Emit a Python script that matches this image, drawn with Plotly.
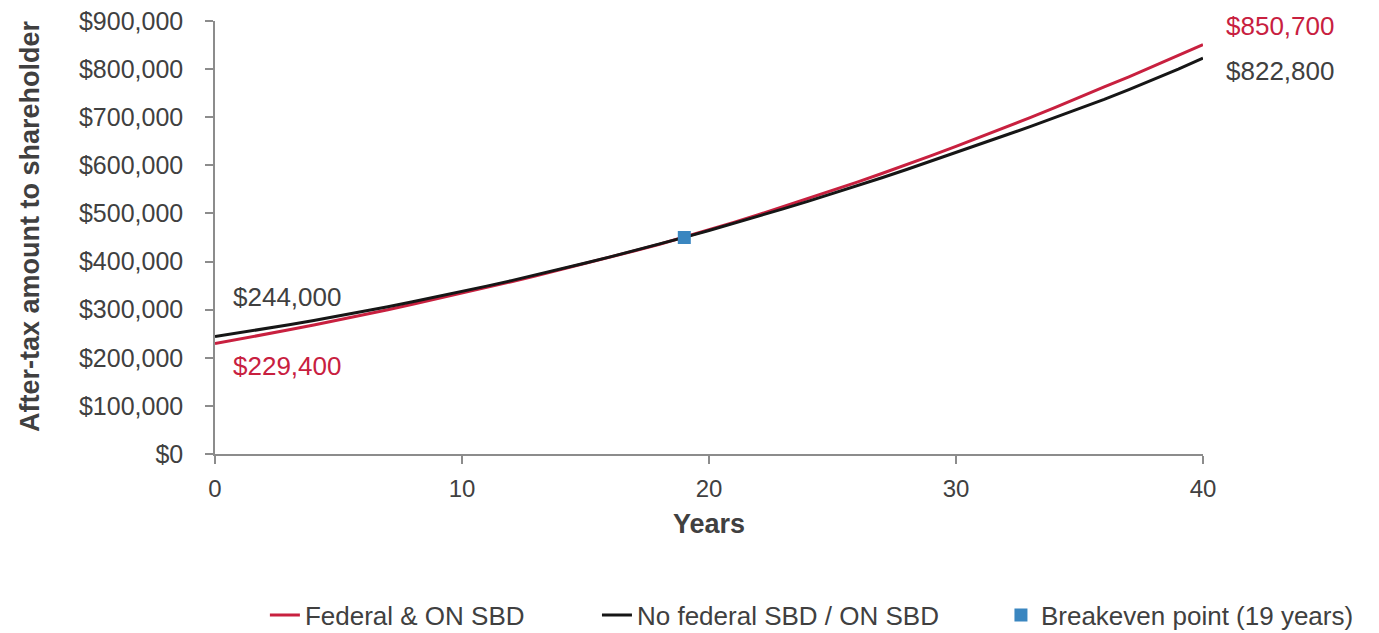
import plotly.graph_objects as go

years = list(range(0, 41))
federal_on_sbd = [229400, 238700, 248300, 258100, 268200, 278500, 289100, 300000, 311100, 322500,
                  334100, 346000, 358200, 370600, 383300, 395900, 409000, 422400, 436000, 450600,
                  465600, 481200, 497300, 514000, 530800, 547800, 565200, 583000, 601000, 620000,
                  639500, 659000, 678500, 699000, 720000, 742000, 763000, 784000, 806000, 828000,
                  850700]
no_federal_sbd = [244000, 251900, 260100, 268700, 277600, 286800, 296300, 306200, 316400, 326900,
                  337800, 348900, 360400, 372300, 384400, 396900, 409800, 422900, 436400, 450200,
                  464500, 479100, 494100, 509500, 525100, 541200, 557500, 574200, 591300, 608700,
                  626500, 644600, 662500, 680500, 699000, 717500, 737000, 757500, 778500, 800000,
                  822800]
breakeven_year = [19]
breakeven_value = [450000]
series_names = ["Federal & ON SBD", "No federal SBD / ON SBD", "Breakeven point (19 years)"]
y_ticks = [0, 100000, 200000, 300000, 400000, 500000, 600000, 700000, 800000, 900000]
x_ticks = [0, 10, 20, 30, 40]
x_title = "Years"
y_title = "After-tax amount to shareholder"

RED = "#C8203F"
BLACK = "#161616"
BLUE = "#3A86C0"
TEXT = "#404040"
AXIS = "#8C8C8C"
FONT = "Liberation Sans"

fig = go.Figure()
fig.add_trace(go.Scatter(x=years, y=federal_on_sbd, mode="lines", name=series_names[0],
                         line=dict(color=RED, width=3), legend="legend"))
fig.add_trace(go.Scatter(x=years, y=no_federal_sbd, mode="lines", name=series_names[1],
                         line=dict(color=BLACK, width=3), legend="legend2"))
fig.add_trace(go.Scatter(x=breakeven_year, y=breakeven_value, mode="markers", name=series_names[2],
                         marker=dict(color=BLUE, size=13, symbol="square"), legend="legend3"))

def money(v):
    return f"${v:,}"

ann_font = dict(family=FONT, size=26)
annotations = [
    dict(x=years[0], y=326000, xref="x", yref="y", text=money(no_federal_sbd[0]), showarrow=False,
         xanchor="left", yanchor="middle", xshift=16, font=dict(color=TEXT, **ann_font)),
    dict(x=years[0], y=183000, xref="x", yref="y", text=money(federal_on_sbd[0]), showarrow=False,
         xanchor="left", yanchor="middle", xshift=16, font=dict(color=RED, **ann_font)),
    dict(x=years[-1], y=889000, xref="x", yref="y", text=money(federal_on_sbd[-1]), showarrow=False,
         xanchor="left", yanchor="middle", xshift=21, font=dict(color=RED, **ann_font)),
    dict(x=years[-1], y=797000, xref="x", yref="y", text=money(no_federal_sbd[-1]), showarrow=False,
         xanchor="left", yanchor="middle", xshift=21, font=dict(color=TEXT, **ann_font)),
    dict(x=-0.1872, y=0.5266, xref="paper", yref="paper", text=f"<b>{y_title}</b>",
         showarrow=False, textangle=-90, xanchor="center", yanchor="middle",
         font=dict(family=FONT, size=27, color=TEXT)),
]

leg_common = dict(orientation="h", y=-0.372, yanchor="middle", xanchor="left",
                  font=dict(family=FONT, size=26, color=TEXT), bgcolor="rgba(0,0,0,0)",
                  borderwidth=0)

fig.update_layout(
    width=1371, height=625,
    margin=dict(l=207, r=176, t=13, b=179, autoexpand=False),
    paper_bgcolor="white", plot_bgcolor="white",
    font=dict(family=FONT, size=24, color=TEXT),
    showlegend=True,
    legend=dict(x=0.0505, **leg_common),
    legend2=dict(x=0.3866, **leg_common),
    legend3=dict(x=0.7955, **leg_common),
    annotations=annotations,
    xaxis=dict(range=[0, 40], tickvals=x_ticks, ticktext=[str(t) for t in x_ticks],
               showgrid=False, zeroline=False, showline=True, linecolor=AXIS, linewidth=1.5,
               ticks="outside", ticklen=8, tickcolor=AXIS, tickwidth=1.5,
               ticklabelstandoff=4,
               tickfont=dict(family=FONT, size=24, color=TEXT),
               title=dict(text=f"<b>{x_title}</b>", standoff=14,
                          font=dict(family=FONT, size=27, color=TEXT))),
    yaxis=dict(range=[0, 900000], tickvals=y_ticks, ticktext=[money(v) for v in y_ticks],
               showgrid=False, zeroline=False, showline=True, linecolor=AXIS, linewidth=1.5,
               ticks="outside", ticklen=8, tickcolor=AXIS, tickwidth=1.5,
               ticklabelstandoff=17, ticklabeloverflow="allow",
               tickfont=dict(family=FONT, size=25, color=TEXT)),
)

fig.write_html("out.html")
